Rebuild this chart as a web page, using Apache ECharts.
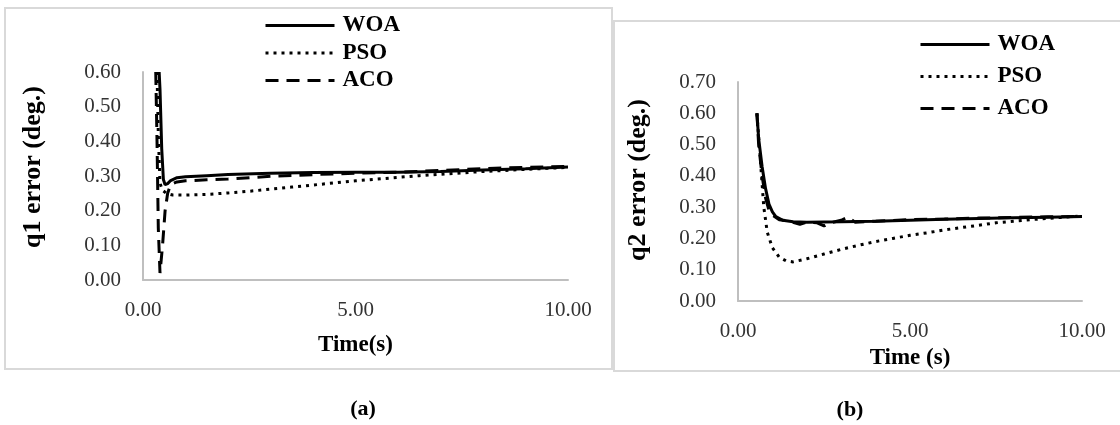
<!DOCTYPE html>
<html>
<head>
<meta charset="utf-8">
<script src="https://cdn.jsdelivr.net/npm/echarts@6/dist/echarts.min.js"></script>
<style>
html,body{margin:0;padding:0;background:#fff;}
#c{width:1120px;height:425px;}
</style>
</head>
<body>
<div id="c"></div>
<script>
// ---------- Panel (a): q1 error ----------
const tA_WOA = [0.38, 0.40, 0.44, 0.48, 0.52, 0.58, 0.65, 0.8, 1.0, 1.5, 2.0, 3.0, 4.0, 5.0, 6.0, 7.0, 8.0, 9.0, 10.0];
const vA_WOA = [0.60, 0.55, 0.38, 0.29, 0.275, 0.278, 0.287, 0.295, 0.298, 0.301, 0.304, 0.308, 0.310, 0.311, 0.311, 0.313, 0.317, 0.321, 0.326];
const tA_PSO = [0.33, 0.36, 0.40, 0.45, 0.55, 0.7, 1.0, 1.5, 2.0, 2.5, 3.0, 3.5, 4.0, 4.5, 5.0, 5.5, 6.0, 6.5, 7.0, 7.5, 8.0, 8.5, 9.0, 9.5, 10.0];
const vA_PSO = [0.60, 0.42, 0.28, 0.26, 0.25, 0.245, 0.245, 0.247, 0.251, 0.256, 0.262, 0.268, 0.274, 0.280, 0.286, 0.291, 0.296, 0.301, 0.305, 0.309, 0.313, 0.316, 0.319, 0.322, 0.325];
const tA_ACO = [0.30, 0.33, 0.36, 0.40, 0.46, 0.52, 0.58, 0.65, 0.8, 1.0, 1.5, 2.0, 2.5, 3.0, 4.0, 5.0, 6.0, 7.0, 8.0, 9.0, 10.0];
const vA_ACO = [0.60, 0.40, 0.15, 0.02, 0.10, 0.20, 0.25, 0.275, 0.283, 0.286, 0.289, 0.291, 0.295, 0.299, 0.304, 0.308, 0.311, 0.316, 0.321, 0.325, 0.328];

// ---------- Panel (b): q2 error ----------
const tB_WOA = [0.55, 0.6, 0.7, 0.8, 0.9, 1.0, 1.1, 1.3, 1.6, 2.0, 3.0, 4.0, 5.0, 6.0, 7.0, 8.0, 9.0, 10.0];
const vB_WOA = [0.60, 0.52, 0.43, 0.36, 0.31, 0.285, 0.27, 0.258, 0.253, 0.252, 0.253, 0.255, 0.258, 0.261, 0.264, 0.266, 0.268, 0.270];
const tB_PSO = [0.55, 0.65, 0.75, 0.85, 1.0, 1.2, 1.4, 1.6, 2.0, 2.5, 3.0, 3.5, 4.0, 4.5, 5.0, 5.5, 6.0, 6.5, 7.0, 7.5, 8.0, 8.5, 9.0, 9.5, 10.0];
const vB_PSO = [0.60, 0.45, 0.30, 0.22, 0.17, 0.14, 0.128, 0.125, 0.135, 0.15, 0.165, 0.178, 0.19, 0.20, 0.21, 0.218, 0.227, 0.235, 0.242, 0.25, 0.255, 0.26, 0.264, 0.268, 0.272];
const tB_ACO = [0.55, 0.6, 0.7, 0.8, 0.9, 1.0, 1.2, 1.5, 1.8, 2.0, 2.3, 2.5, 2.7, 3.0, 3.2, 3.4, 4.0, 5.0, 6.0, 7.0, 8.0, 9.0, 10.0];
const vB_ACO = [0.60, 0.50, 0.40, 0.33, 0.29, 0.275, 0.26, 0.255, 0.245, 0.252, 0.25, 0.24, 0.25, 0.258, 0.268, 0.252, 0.255, 0.26, 0.262, 0.265, 0.267, 0.269, 0.270];

const seriesNames = ['WOA', 'PSO', 'ACO'];
const xTicksInterval = 5;
const yMaxA = 0.6, yMaxB = 0.7, yInterval = 0.1;

const zip = (t, v) => t.map((x, i) => [x, v[i]]);
const serif = "'Liberation Serif', 'Times New Roman', serif";
const styles = {
  WOA: { type: 'solid', width: 3 },
  PSO: { type: [3, 5], width: 3 },
  ACO: { type: [13, 8], width: 3 }
};
function mk(name, data, idx) {
  return {
    name: name, type: 'line', xAxisIndex: idx, yAxisIndex: idx,
    data: data, symbol: 'none', showSymbol: false, clip: false,
    lineStyle: { color: '#000', width: styles[name].width, type: styles[name].type },
    itemStyle: { color: '#000' },
    z: name === 'WOA' ? 4 : (name === 'ACO' ? 3 : 2),
    emphasis: { disabled: true }, animation: false
  };
}

const tickLabel = { fontFamily: serif, fontSize: 21, color: '#333', formatter: v => v.toFixed(2) };
const axisLine = { show: true, lineStyle: { color: '#bfbfbf', width: 2 } };
const nameStyle = { fontFamily: serif, fontSize: 23, fontWeight: 'bold', color: '#000' };

function xAx(idx, name, gap) {
  return { type: 'value', gridIndex: idx, min: 0, max: 10, interval: xTicksInterval,
    axisLine: axisLine, axisTick: { show: false }, splitLine: { show: false },
    axisLabel: Object.assign({ margin: 20 }, tickLabel),
    name: name, nameLocation: 'middle', nameGap: gap, nameTextStyle: nameStyle };
}
function yAx(idx, max) {
  return { type: 'value', gridIndex: idx, min: 0, max: max, interval: yInterval,
    axisLine: axisLine, axisTick: { show: false }, splitLine: { show: false },
    axisLabel: Object.assign({ margin: 22 }, tickLabel) };
}
const legendText = { fontFamily: serif, fontSize: 23, fontWeight: 'bold', color: '#000', lineHeight: 20, padding: [0, 0, 0, 3] };
const legendItem = { color: 'rgba(0,0,0,0)', borderColor: 'rgba(0,0,0,0)', borderWidth: 0, opacity: 0 };
const legendLine = { width: 3 };

const chart = echarts.init(document.getElementById('c'), null, { renderer: 'canvas' });
chart.setOption({
  backgroundColor: '#fff',
  animation: false,
  grid: [
    { left: 143, top: 72, width: 425, height: 208 },
    { left: 738, top: 82, width: 344, height: 219 }
  ],
  xAxis: [xAx(0, 'Time(s)', 54), xAx(1, 'Time (s)', 41)],
  yAxis: [yAx(0, yMaxA), yAx(1, yMaxB)],
  legend: [
    { orient: 'vertical', left: 259, top: 9, itemWidth: 69, itemHeight: 20, itemGap: 4.5,
      data: seriesNames.map(n => n), textStyle: legendText, selectedMode: false,
      itemStyle: legendItem, lineStyle: legendLine,
      formatter: n => n.replace('_b', '') },
    { orient: 'vertical', left: 914, top: 28, itemWidth: 69, itemHeight: 20, itemGap: 9,
      data: seriesNames.map(n => n + '_b'), textStyle: legendText, selectedMode: false,
      itemStyle: legendItem, lineStyle: legendLine,
      formatter: n => n.replace('_b', '') }
  ],
  series: [
    mk('PSO', zip(tA_PSO, vA_PSO), 0),
    mk('ACO', zip(tA_ACO, vA_ACO), 0),
    mk('WOA', zip(tA_WOA, vA_WOA), 0),
    Object.assign(mk('PSO', zip(tB_PSO, vB_PSO), 1), { name: 'PSO_b' }),
    Object.assign(mk('ACO', zip(tB_ACO, vB_ACO), 1), { name: 'ACO_b' }),
    Object.assign(mk('WOA', zip(tB_WOA, vB_WOA), 1), { name: 'WOA_b' })
  ],
  graphic: [
    { type: 'rect', shape: { x: 5, y: 8, width: 607, height: 361 }, style: { fill: 'none', stroke: '#d9d9d9', lineWidth: 2 }, z: -1 },
    { type: 'rect', shape: { x: 614, y: 21, width: 520, height: 350 }, style: { fill: 'none', stroke: '#d9d9d9', lineWidth: 2 }, z: -1 },
    { type: 'text', x: 33, y: 167, rotation: Math.PI / 2,
      style: { text: 'q1 error (deg.)', font: "bold 26px 'Liberation Serif', serif", fill: '#000', textAlign: 'center', textVerticalAlign: 'middle' } },
    { type: 'text', x: 638, y: 180, rotation: Math.PI / 2,
      style: { text: 'q2 error (deg.)', font: "bold 26px 'Liberation Serif', serif", fill: '#000', textAlign: 'center', textVerticalAlign: 'middle' } },
    { type: 'text', x: 363, y: 409,
      style: { text: '(a)', font: "bold 22px 'Liberation Serif', serif", fill: '#000', textAlign: 'center', textVerticalAlign: 'middle' } },
    { type: 'text', x: 850, y: 410,
      style: { text: '(b)', font: "bold 22px 'Liberation Serif', serif", fill: '#000', textAlign: 'center', textVerticalAlign: 'middle' } }
  ]
});
</script>
</body>
</html>
